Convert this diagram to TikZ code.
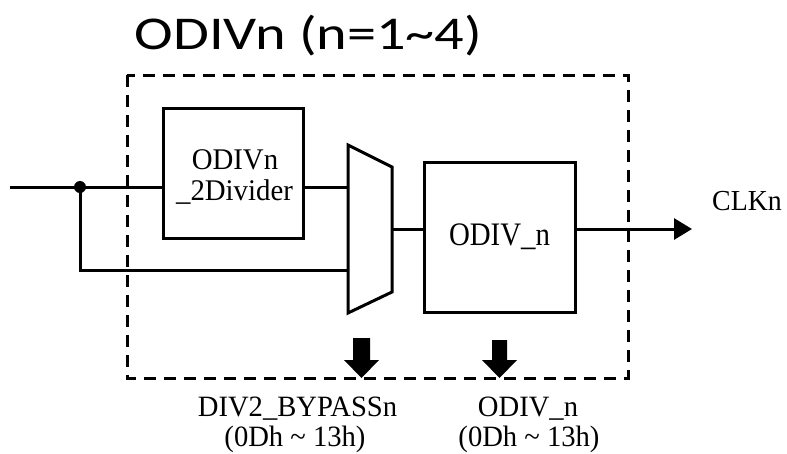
\documentclass[tikz,border=0pt]{standalone}
\usepackage{fontspec}
\usepackage{graphicx}
\setmainfont{Liberation Serif}
\newfontfamily\titlefont[FakeStretch=1.24]{Carlito}
\usetikzlibrary{arrows.meta}
\begin{document}
\begin{tikzpicture}[x=1pt,y=-1pt,
  wire/.style={line width=3pt},
  blk/.style={draw,line width=3pt,inner sep=0pt,fill=white},
  txt/.style={inner sep=0pt,anchor=base,font=\fontsize{30}{31}\selectfont},
  lbl/.style={inner sep=0pt,anchor=base,font=\fontsize{29.5}{31}\selectfont},
  fatarrow/.style={fill=black}]
\useasboundingbox (0,0) rectangle (787,453);
% title
\node[inner sep=0pt,anchor=base] (title) at (308.5,49) {\titlefont\fontsize{47}{50}\selectfont ODIVn (n=1\textasciitilde 4)};
% dashed frame
\draw[line width=3pt,dash pattern=on 12pt off 8pt] (127,75) rectangle (628,378);
% blocks
\node[blk,minimum width=140pt,minimum height=130pt] (div) at (233,173) {};
\node[txt] (divt1) at (235,169) {\scalebox{0.96}[1]{ODIVn}};
\node[txt] (divt2) at (234.5,200) {\scalebox{0.96}[1]{\_2Divider}};
\node[blk,minimum width=151pt,minimum height=150pt] (odiv) at (499.5,237) {};
\node[txt,font=\fontsize{32.8}{34}\selectfont] (odivt) at (499.5,245) {\scalebox{0.88}[1]{ODIV\_n}};
% mux
\coordinate (m1) at (348,145);
\coordinate (m2) at (392,167);
\coordinate (m3) at (392,292);
\coordinate (m4) at (348,313);
\draw[wire,line join=miter] (m1) -- (m2) -- (m3) -- (m4) -- cycle;
\coordinate (muxA) at (348,187);
\coordinate (muxB) at (348,270);
\coordinate (muxO) at (392,229);
% wiring
\coordinate (in) at (10,187);
\coordinate (j) at (80,187);
\coordinate (jb) at (80,270);
\draw[wire] (in) -- (div.west |- in);
\draw[wire] (div.east |- muxA) -- (muxA);
\draw[wire] (j) -- (jb) -- (muxB);
\fill (j) circle (6pt);
\coordinate (odivI) at (odiv.west |- muxO);
\draw[wire] (muxO) -- (odivI);
\coordinate (odivO) at (odiv.east |- muxO);
\coordinate (clk) at (692,229);
\draw[wire,-{Triangle[length=18pt,width=21pt]}] (odivO) -- (clk);
\node[txt,font=\fontsize{29}{30}\selectfont] (clkt) at (747,210) {\scalebox{0.96}[1]{CLKn}};
% thick control arrows
\fill[fatarrow] (353,338) -- (370,338) -- (370,360) -- (379,360) -- (361.5,378) -- (344,360) -- (353,360) -- cycle;
\fill[fatarrow] (492,340) -- (507,340) -- (507,360) -- (517,360) -- (499.5,378) -- (482,360) -- (492,360) -- cycle;
% labels
\node[lbl] (b1) at (297.5,416) {\scalebox{0.97}[1]{DIV2\_BYPASSn}};
\node[lbl] (b2) at (295,446) {\scalebox{0.97}[1]{(0Dh \textasciitilde\ 13h)}};
\node[lbl] (o1) at (528,416) {\scalebox{0.97}[1]{ODIV\_n}};
\node[lbl] (o2) at (529,446) {\scalebox{0.97}[1]{(0Dh \textasciitilde\ 13h)}};
\end{tikzpicture}
\end{document}
